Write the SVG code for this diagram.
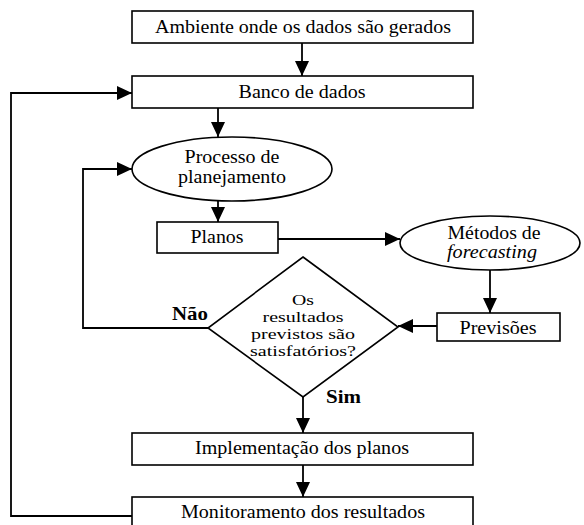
<svg xmlns="http://www.w3.org/2000/svg" width="584" height="525" viewBox="0 0 584 525" font-family="Liberation Serif, Times New Roman, DejaVu Serif, serif">
<defs>
<marker id="ah" markerUnits="userSpaceOnUse" markerWidth="15" markerHeight="14" viewBox="0 0 15 14" refX="15" refY="7" orient="auto">
<path d="M0,0 L15,7 L0,14 Z" fill="#000"/>
</marker>
<style>
.box{fill:#fff;stroke:#000;stroke-width:1.6}
text{font-size:18px;fill:#000;text-anchor:middle}
.b{font-weight:bold;text-anchor:start}
.i{font-style:italic}
.d{font-size:15px}
.c{fill:none;stroke:#000;stroke-width:1.8}
</style>
</defs>
<rect width="584" height="525" fill="#fff"/>
<g id="connectors">
<path class="c" d="M302,43 V76" marker-end="url(#ah)"/>
<path class="c" d="M218,108 V137" marker-end="url(#ah)"/>
<path class="c" d="M218,201 V222" marker-end="url(#ah)"/>
<path class="c" d="M278,239 H400" marker-end="url(#ah)"/>
<path class="c" d="M490,270 V313" marker-end="url(#ah)"/>
<path class="c" d="M437,326 H398" marker-end="url(#ah)"/>
<path class="c" d="M208,328 H83 V169 H132" marker-end="url(#ah)"/>
<path class="c" d="M303,397 V433" marker-end="url(#ah)"/>
<path class="c" d="M303,465 V497" marker-end="url(#ah)"/>
<path class="c" d="M132,516 H11 V93 H132" marker-end="url(#ah)"/>
<text class="b" x="172" y="320" textLength="36" lengthAdjust="spacingAndGlyphs">Não</text>
<text class="b" x="326" y="403" textLength="35" lengthAdjust="spacingAndGlyphs">Sim</text>
</g>
<g id="ambiente">
<rect class="box" x="132" y="11" width="341" height="32"/>
<text x="303" y="33" textLength="296" lengthAdjust="spacingAndGlyphs">Ambiente onde os dados são gerados</text>
</g>
<g id="banco">
<rect class="box" x="132" y="76" width="341" height="32"/>
<text x="302" y="98" textLength="127" lengthAdjust="spacingAndGlyphs">Banco de dados</text>
</g>
<g id="processo">
<ellipse class="box" cx="232" cy="169" rx="100" ry="32"/>
<text x="232" y="163" textLength="95" lengthAdjust="spacingAndGlyphs">Processo de</text>
<text x="232" y="183" textLength="108" lengthAdjust="spacingAndGlyphs">planejamento</text>
</g>
<g id="planos">
<rect class="box" x="157" y="222" width="121" height="31"/>
<text x="217" y="243" textLength="53" lengthAdjust="spacingAndGlyphs">Planos</text>
</g>
<g id="metodos">
<ellipse class="box" cx="490" cy="243" rx="90" ry="27"/>
<text x="494" y="239" textLength="93" lengthAdjust="spacingAndGlyphs">Métodos de</text>
<text class="i" x="492" y="258" textLength="90" lengthAdjust="spacingAndGlyphs">forecasting</text>
</g>
<g id="previsoes">
<rect class="box" x="437" y="313" width="123" height="28"/>
<text x="498" y="334" textLength="77" lengthAdjust="spacingAndGlyphs">Previsões</text>
</g>
<g id="decisao">
<polygon class="box" points="303,257 398,327 303,397 208,328"/>
<text class="d" x="303" y="305" textLength="22" lengthAdjust="spacingAndGlyphs">Os</text>
<text class="d" x="303" y="322" textLength="81" lengthAdjust="spacingAndGlyphs">resultados</text>
<text class="d" x="303" y="339" textLength="104" lengthAdjust="spacingAndGlyphs">previstos são</text>
<text class="d" x="303" y="356" textLength="106" lengthAdjust="spacingAndGlyphs">satisfatórios?</text>
</g>
<g id="implementacao">
<rect class="box" x="132" y="433" width="341" height="32"/>
<text x="302" y="454" textLength="214" lengthAdjust="spacingAndGlyphs">Implementação dos planos</text>
</g>
<g id="monitoramento">
<rect class="box" x="132" y="497" width="341" height="34"/>
<text x="303" y="518" textLength="244" lengthAdjust="spacingAndGlyphs">Monitoramento dos resultados</text>
</g>
</svg>
